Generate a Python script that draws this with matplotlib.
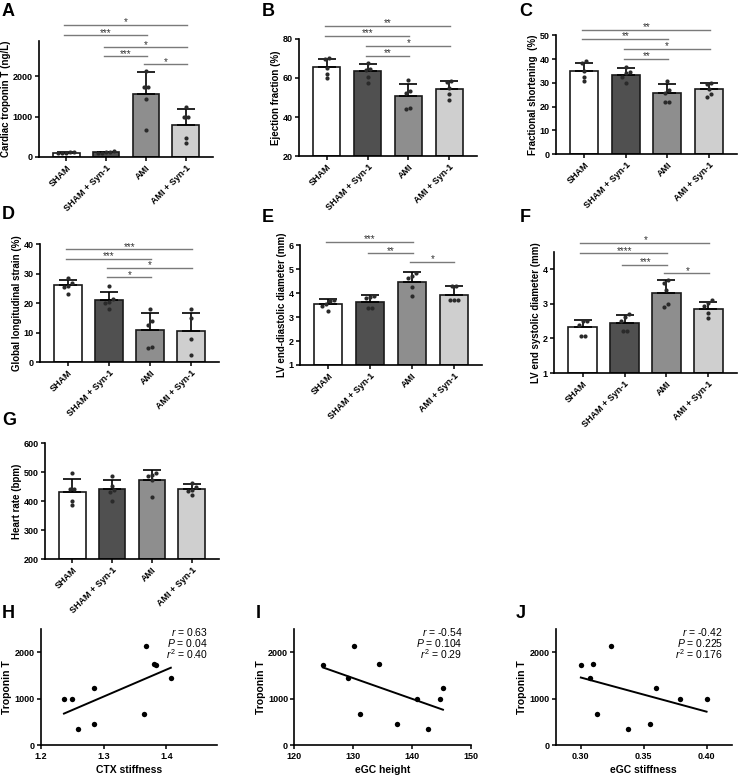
import numpy as np
import matplotlib.pyplot as plt

plt.rcParams['font.family'] = ['Liberation Sans', 'DejaVu Sans']
plt.rcParams['mathtext.fontset'] = 'custom'
plt.rcParams['mathtext.rm'] = 'Liberation Sans'
plt.rcParams['mathtext.it'] = 'Liberation Sans:italic'
plt.rcParams['axes.linewidth'] = 1.2

W, H = 738, 776

groups = ["SHAM", "SHAM + Syn-1", "AMI", "AMI + Syn-1"]
bar_colors = ["white", "#505050", "#8e8e8e", "#cfcfcf"]

# A - cardiac troponin T
tnt_mean = [110, 116, 1554, 802]
tnt_sd = [15, 18, 553, 396]
tnt_pts = [[128, 118, 108, 100, 95], [140, 122, 112, 104, 100],
           [2129, 1743, 1736, 1443, 671], [1236, 993, 986, 464, 343]]

# B - ejection fraction
ef_mean = [65.4, 63.3, 50.6, 54.2]
ef_sd = [4.4, 3.8, 6.1, 4.0]
ef_pts = [[70.0, 69.8, 65.0, 62.0, 59.8], [67.4, 64.5, 64.0, 60.6, 57.6],
          [58.9, 53.1, 52.5, 44.5, 44.3], [58.2, 58.0, 54.7, 51.8, 48.9]]

# C - fractional shortening
fs_mean = [35.1, 33.3, 25.6, 27.4]
fs_sd = [3.4, 2.8, 3.7, 2.6]
fs_pts = [[39.2, 38.3, 35.0, 32.6, 30.9], [36.8, 34.7, 34.0, 32.6, 29.8],
          [30.9, 27.0, 25.8, 22.0, 21.9], [30.0, 29.6, 27.2, 25.3, 23.9]]

# D - global longitudinal strain
gls_mean = [26.1, 21.2, 11.0, 10.7]
gls_sd = [1.9, 2.8, 5.6, 6.0]
gls_pts = [[28.6, 26.8, 25.9, 25.4, 23.2], [25.9, 21.4, 20.6, 20.0, 18.0],
           [17.9, 13.9, 12.8, 5.3, 5.0], [18.0, 14.9, 7.8, 2.5]]

# E - LV end-diastolic diameter
edd_mean = [3.54, 3.65, 4.48, 3.94]
edd_sd = [0.20, 0.28, 0.39, 0.36]
edd_pts = [[3.72, 3.67, 3.55, 3.48, 3.27], [3.88, 3.83, 3.79, 3.40, 3.38],
           [4.86, 4.72, 4.65, 4.27, 3.87], [4.30, 4.29, 3.70, 3.70, 3.70]]

# F - LV end systolic diameter
esd_mean = [2.33, 2.44, 3.30, 2.85]
esd_sd = [0.20, 0.24, 0.38, 0.19]
esd_pts = [[2.51, 2.50, 2.39, 2.08, 2.08], [2.71, 2.61, 2.51, 2.20, 2.20],
           [3.69, 3.59, 3.39, 3.00, 2.89], [3.11, 3.02, 2.94, 2.73, 2.60]]

# G - heart rate
hr_mean = [433, 442, 473, 442]
hr_sd = [43, 31, 35, 18]
hr_pts = [[498, 442, 441, 401, 387], [488, 453, 439, 431, 402],
          [499, 491, 488, 473, 414], [464, 450, 439, 436, 422]]

# H-J - troponin T vs endothelial parameters (AMI groups)
troponin = [2129, 1743, 1736, 1443, 671, 1236, 993, 986, 464, 343]
ctx_stiffness = [1.368, 1.381, 1.384, 1.407, 1.365, 1.285, 1.249, 1.237, 1.285, 1.259]
egc_height = [130.07, 134.32, 124.87, 129.17, 131.09, 145.24, 144.79, 140.88, 137.43, 142.75]
egc_stiffness = [0.3239, 0.3095, 0.300, 0.3074, 0.3128, 0.3598, 0.400, 0.379, 0.3553, 0.3372]

fig = plt.figure(figsize=(W / 100, H / 100), dpi=100)


def add_ax(left, top, right, bottom):
    return fig.add_axes([left / W, 1 - bottom / H, (right - left) / W, (bottom - top) / H])


def letter(x, y, s):
    fig.text(x / W, 1 - y / H, s, fontsize=13, fontweight='bold', ha='left', va='top')


def swarm_offsets(vals, ax, d_px=4.0):
    # spread points with nearly equal values side by side (like Prism)
    bb = ax.get_position()
    h_px, w_px = bb.height * H, bb.width * W
    y0, y1 = ax.get_ylim()
    x0, x1 = ax.get_xlim()
    dy = (y1 - y0) / h_px
    dx = (x1 - x0) / w_px
    order = np.argsort(vals)
    offs = np.zeros(len(vals))
    clusters, cur = [], [order[0]]
    for k in order[1:]:
        if abs(vals[k] - vals[cur[-1]]) / dy < d_px:
            cur.append(k)
        else:
            clusters.append(cur)
            cur = [k]
    clusters.append(cur)
    for c in clusters:
        n = len(c)
        for i, k in enumerate(c):
            offs[k] = (i - (n - 1) / 2) * d_px * dx
    return offs


def bar_panel(rect, mean, sd, pts, ylim, yticks, ylabel, brackets):
    ax = add_ax(*rect)
    x = np.arange(len(groups))
    ax.set_xlim(-0.68, 3.68)
    ax.set_ylim(*ylim)
    ax.bar(x, np.array(mean) - ylim[0], bottom=ylim[0], width=0.67, color=bar_colors,
           edgecolor='#1a1a1a', linewidth=1.2, zorder=2)
    ax.errorbar(x, mean, yerr=[np.zeros(len(sd)), sd], fmt='none', ecolor='black',
                elinewidth=1.2, capsize=6.5, capthick=1.2, zorder=3)
    for i, p in enumerate(pts):
        p = np.array(p, dtype=float)
        ax.scatter(i + swarm_offsets(p, ax), p, s=9, color='#2a2a2a', zorder=4, linewidths=0)
    ax.set_xticks(x)
    ax.set_xticklabels(groups, rotation=45, ha='right', rotation_mode='anchor',
                       fontsize=6.5, fontweight='bold')
    ax.set_yticks(yticks)
    ax.set_yticklabels([str(t) for t in yticks], fontsize=6.5, fontweight='bold')
    ax.tick_params(axis='both', length=3, width=1.1, pad=1.5)
    ax.set_ylabel(ylabel, fontsize=7, fontweight='bold', labelpad=1.5)
    ax.spines['top'].set_visible(False)
    ax.spines['right'].set_visible(False)
    for i, j, y, stars in brackets:
        ax.plot([i - 0.05, j + 0.02], [y, y], color='#7a7a7a', lw=1.0, clip_on=False, zorder=5)
        ax.text((i + j) / 2, y - (ylim[1] - ylim[0]) * 0.02, stars, ha='center', va='bottom',
                fontsize=7, color='#333333', clip_on=False)
    return ax


def scatter_panel(rect, xv, yv, xlim, xticks, xfmt, xlabel, stats):
    ax = add_ax(*rect)
    xv = np.array(xv)
    yv = np.array(yv)
    ax.scatter(xv, yv, s=15, color='black', zorder=3, linewidths=0)
    slope, icpt = np.polyfit(xv, yv, 1)
    xl = np.array([xv.min(), xv.max()])
    ax.plot(xl, slope * xl + icpt, color='black', lw=1.4)
    ax.set_xlim(*xlim)
    ax.set_ylim(0, 2500)
    ax.set_xticks(xticks)
    ax.set_xticklabels([xfmt % t for t in xticks], fontsize=6.5, fontweight='bold')
    ax.set_yticks([0, 1000, 2000])
    ax.set_yticklabels(['0', '1000', '2000'], fontsize=6.5, fontweight='bold')
    ax.tick_params(axis='both', length=3, width=1.1, pad=1.5)
    ax.set_ylabel('Troponin T', fontsize=7.5, fontweight='bold', labelpad=1.5)
    ax.set_xlabel(xlabel, fontsize=7.5, fontweight='bold', labelpad=3)
    ax.spines['top'].set_visible(False)
    ax.spines['right'].set_visible(False)
    for k, s in enumerate(stats):
        ax.text(0.95, 1.03 - k * 0.095, s, transform=ax.transAxes, ha='right', va='top',
                fontsize=7.5)
    return ax


bar_panel((39, 41, 213, 157), tnt_mean, tnt_sd, tnt_pts, (0, 2878), [0, 1000, 2000],
          'Cardiac troponin T (ng/L)',
          [(0, 3, 3275, '*'), (0, 2, 3020, '***'), (1, 3, 2722, '*'),
           (1, 2, 2499, '***'), (2, 3, 2300, '*')])
bar_panel((299, 38.7, 477, 156.3), ef_mean, ef_sd, ef_pts, (20, 80), [20, 40, 60, 80],
          'Ejection fraction (%)',
          [(0, 3, 86.6, '**'), (0, 2, 81.5, '***'), (1, 3, 76.4, '*'), (1, 2, 71.3, '**')])
bar_panel((556, 35.3, 737, 154), fs_mean, fs_sd, fs_pts, (0, 50), [0, 10, 20, 30, 40, 50],
          'Fractional shortening  (%)',
          [(0, 3, 52.4, '**'), (0, 2, 48.5, '**'), (1, 3, 44.2, '*'), (1, 2, 40.0, '**')])
bar_panel((40, 244.3, 219, 362.3), gls_mean, gls_sd, gls_pts, (0, 40), [0, 10, 20, 30, 40],
          'Global longitudinal strain (%)',
          [(0, 3, 38.3, '***'), (0, 2, 35.1, '***'), (1, 3, 32.1, '*'), (1, 2, 28.8, '*')])
bar_panel((300, 245.3, 482, 365), edd_mean, edd_sd, edd_pts, (1, 6), [1, 2, 3, 4, 5, 6],
          'LV end-diastolic diameter (mm)',
          [(0, 2, 6.14, '***'), (1, 2, 5.67, '**'), (2, 3, 5.30, '*')])
bar_panel((554, 251.7, 737, 373), esd_mean, esd_sd, esd_pts, (1, 4.5), [1, 2, 3, 4],
          'LV end systolic diameter (mm)',
          [(0, 3, 4.75, '*'), (0, 2, 4.45, '****'), (1, 2, 4.12, '***'), (2, 3, 3.88, '*')])
bar_panel((45, 443.3, 219, 559.3), hr_mean, hr_sd, hr_pts, (200, 600),
          [200, 300, 400, 500, 600], 'Heart rate (bpm)', [])

scatter_panel((40.7, 629, 216.7, 745.3), ctx_stiffness, troponin, (1.2, 1.48),
              [1.2, 1.3, 1.4], '%.1f', 'CTX stiffness',
              [r'$r$ = 0.63', r'$P$ = 0.04', r'$r^2$ = 0.40'])
scatter_panel((294.3, 629, 471, 745.3), egc_height, troponin, (120, 150),
              [120, 130, 140, 150], '%d', 'eGC height',
              [r'$r$ = -0.54', r'$P$ = 0.104', r'$r^2$ = 0.29'])
scatter_panel((555.7, 629, 731.7, 745.3), egc_stiffness, troponin, (0.28, 0.42),
              [0.30, 0.35, 0.40], '%.2f', 'eGC stiffness',
              [r'$r$ = -0.42', r'$P$ = 0.225', r'$r^2$ = 0.176'])

letter(2, 3, 'A')
letter(262, 3, 'B')
letter(519, 3, 'C')
letter(2, 206, 'D')
letter(262, 209, 'E')
letter(520, 209, 'F')
letter(2, 412, 'G')
letter(2, 605, 'H')
letter(256, 605, 'I')
letter(516, 605, 'J')

fig.savefig('out.png', dpi=100)
